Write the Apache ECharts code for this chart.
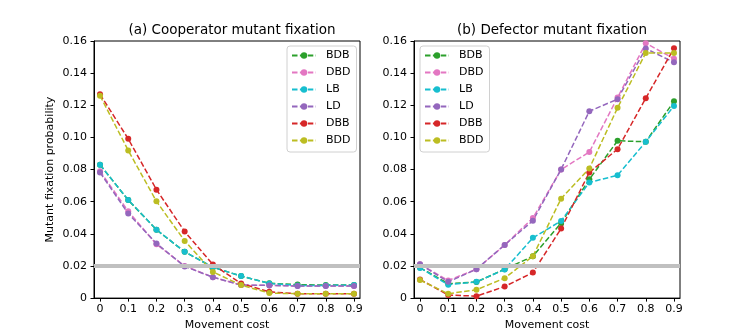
<!DOCTYPE html>
<html>
<head>
<meta charset="utf-8">
<script src="https://cdn.jsdelivr.net/npm/echarts@6/dist/echarts.min.js"></script>
<style>
  html, body { margin: 0; padding: 0; background: #fff; }
  #main { width: 756px; height: 336px; }
</style>
</head>
<body>
<div id="main"></div>
<script>
// movement cost values (x axis)
var costs = [0, 0.1, 0.2, 0.3, 0.4, 0.5, 0.6, 0.7, 0.8, 0.9];
var yTicks = [0, 0.02, 0.04, 0.06, 0.08, 0.10, 0.12, 0.14, 0.16];
var names = ['BDB', 'DBD', 'LB', 'LD', 'DBB', 'BDD'];
var colors = ['#2ca02c', '#e377c2', '#17becf', '#9467bd', '#d62728', '#bcbd22'];
var threshold = 0.02;

// (a) cooperator mutant fixation
var coopBDB = [0.083, 0.061, 0.0425, 0.0288, 0.0192, 0.0137, 0.0092, 0.0084, 0.0081, 0.0081];
var coopDBD = [0.079, 0.054, 0.0335, 0.0200, 0.0130, 0.0081, 0.0080, 0.0075, 0.0075, 0.0075];
var coopLB  = [0.083, 0.0611, 0.0426, 0.0288, 0.0192, 0.0137, 0.0091, 0.0079, 0.0079, 0.0081];
var coopLD  = [0.0782, 0.0526, 0.0340, 0.0197, 0.0130, 0.0081, 0.0079, 0.0075, 0.0075, 0.0075];
var coopDBB = [0.1269, 0.0991, 0.0675, 0.0414, 0.0209, 0.0091, 0.0039, 0.0027, 0.0027, 0.0027];
var coopBDD = [0.1260, 0.0919, 0.0602, 0.0356, 0.0163, 0.0081, 0.0031, 0.0027, 0.0027, 0.0027];

// (b) defector mutant fixation
var defBDB = [0.0190, 0.0090, 0.0100, 0.0180, 0.0260, 0.0468, 0.0739, 0.0979, 0.0973, 0.1225];
var defDBD = [0.0210, 0.0110, 0.0180, 0.0330, 0.0499, 0.0800, 0.0909, 0.1248, 0.1586, 0.1490];
var defLB  = [0.0188, 0.0083, 0.0101, 0.0178, 0.0375, 0.0480, 0.0720, 0.0764, 0.0973, 0.1196];
var defLD  = [0.0211, 0.0101, 0.0180, 0.0331, 0.0482, 0.0801, 0.1163, 0.1238, 0.1553, 0.1467];
var defDBB = [0.0116, 0.0019, 0.0012, 0.0072, 0.0159, 0.0433, 0.0782, 0.0927, 0.1244, 0.1555];
var defBDD = [0.0112, 0.0027, 0.0052, 0.0124, 0.0261, 0.0619, 0.0807, 0.1184, 0.1526, 0.1526];

var coopData = [coopBDB, coopDBD, coopLB, coopLD, coopDBB, coopBDD];
var defData = [defBDB, defDBD, defLB, defLD, defDBB, defBDD];

var font = 'DejaVu Sans';

function pairs(vals) {
    return costs.map(function (c, i) { return [c, vals[i]]; });
}

function makeSeries(dataSets, idx) {
    return dataSets.map(function (vals, k) {
        var s = {
            name: names[k],
            type: 'line',
            xAxisIndex: idx,
            yAxisIndex: idx,
            data: pairs(vals),
            symbol: 'circle',
            symbolSize: 6,
            color: colors[k],
            lineStyle: { width: 1.5, type: [5.5, 2.4] },
            emphasis: { disabled: true }
        };
        if (k === 0) {
            s.markLine = {
                silent: true,
                symbol: ['none', 'none'],
                label: { show: false },
                lineStyle: { color: '#c0c0c0', width: 4, type: 'solid' },
                data: [{ yAxis: threshold }]
            };
        }
        return s;
    });
}

function xAxisOf(idx) {
    return {
        type: 'value',
        gridIndex: idx,
        min: -0.0213,
        max: 0.9213,
        name: 'Movement cost',
        nameLocation: 'middle',
        nameGap: 21,
        nameTextStyle: { fontFamily: font, fontSize: 11, color: '#000' },
        axisLine: { show: true, onZero: false, lineStyle: { color: '#000', width: 1 } },
        axisTick: { show: true, length: 3.5, customValues: costs, lineStyle: { color: '#000' } },
        axisLabel: {
            customValues: costs,
            margin: 6,
            fontFamily: font, fontSize: 11, color: '#000',
            formatter: function (v) { return v === 0 ? '0' : v.toFixed(1); }
        },
        splitLine: { show: false }
    };
}

function yAxisOf(idx) {
    var ax = {
        type: 'value',
        gridIndex: idx,
        min: 0,
        max: 0.16,
        interval: 0.02,
        axisLine: { show: true, onZero: false, lineStyle: { color: '#000', width: 1 } },
        axisTick: { show: true, length: 3.5, lineStyle: { color: '#000' } },
        axisLabel: {
            margin: 7,
            fontFamily: font, fontSize: 11, color: '#000',
            formatter: function (v) { return v === 0 ? '0' : v.toFixed(2); }
        },
        splitLine: { show: false }
    };
    if (idx === 0) {
        ax.name = 'Mutant fixation probability';
        ax.nameLocation = 'middle';
        ax.nameGap = 38;
        ax.nameTextStyle = { fontFamily: font, fontSize: 11, color: '#000' };
    }
    return ax;
}

function legendOf(left) {
    return {
        orient: 'vertical',
        left: left,
        top: 46,
        data: names,
        itemWidth: 24,
        itemHeight: 8,
        itemGap: 4,
        padding: [3, 6, 5, 4],
        backgroundColor: 'rgba(255,255,255,0.8)',
        borderColor: '#d0d0d0',
        borderWidth: 1,
        borderRadius: 3,
        selectedMode: false,
        textStyle: { fontFamily: font, fontSize: 11, color: '#000', lineHeight: 13, padding: [0, 0, 0, 5] }
    };
}

var chartDom = document.getElementById('main');
var myChart = echarts.init(chartDom, null, { renderer: 'canvas' });

var option = {
    animation: false,
    backgroundColor: '#fff',
    title: [
        {
            text: '(a) Cooperator mutant fixation',
            left: 227, top: 18, textAlign: 'center',
            textStyle: { fontFamily: font, fontSize: 13.5, fontWeight: 'normal', color: '#000' }
        },
        {
            text: '(b) Defector mutant fixation',
            left: 547, top: 18, textAlign: 'center',
            textStyle: { fontFamily: font, fontSize: 13.5, fontWeight: 'normal', color: '#000' }
        }
    ],
    legend: [legendOf(287), legendOf(420)],
    grid: [
        { left: 94, top: 41, width: 266, height: 258, show: true, borderColor: '#000', borderWidth: 1, backgroundColor: 'transparent' },
        { left: 414, top: 41, width: 266, height: 258, show: true, borderColor: '#000', borderWidth: 1, backgroundColor: 'transparent' }
    ],
    xAxis: [xAxisOf(0), xAxisOf(1)],
    yAxis: [yAxisOf(0), yAxisOf(1)],
    series: makeSeries(coopData, 0).concat(makeSeries(defData, 1))
};

option && myChart.setOption(option);
</script>
</body>
</html>
